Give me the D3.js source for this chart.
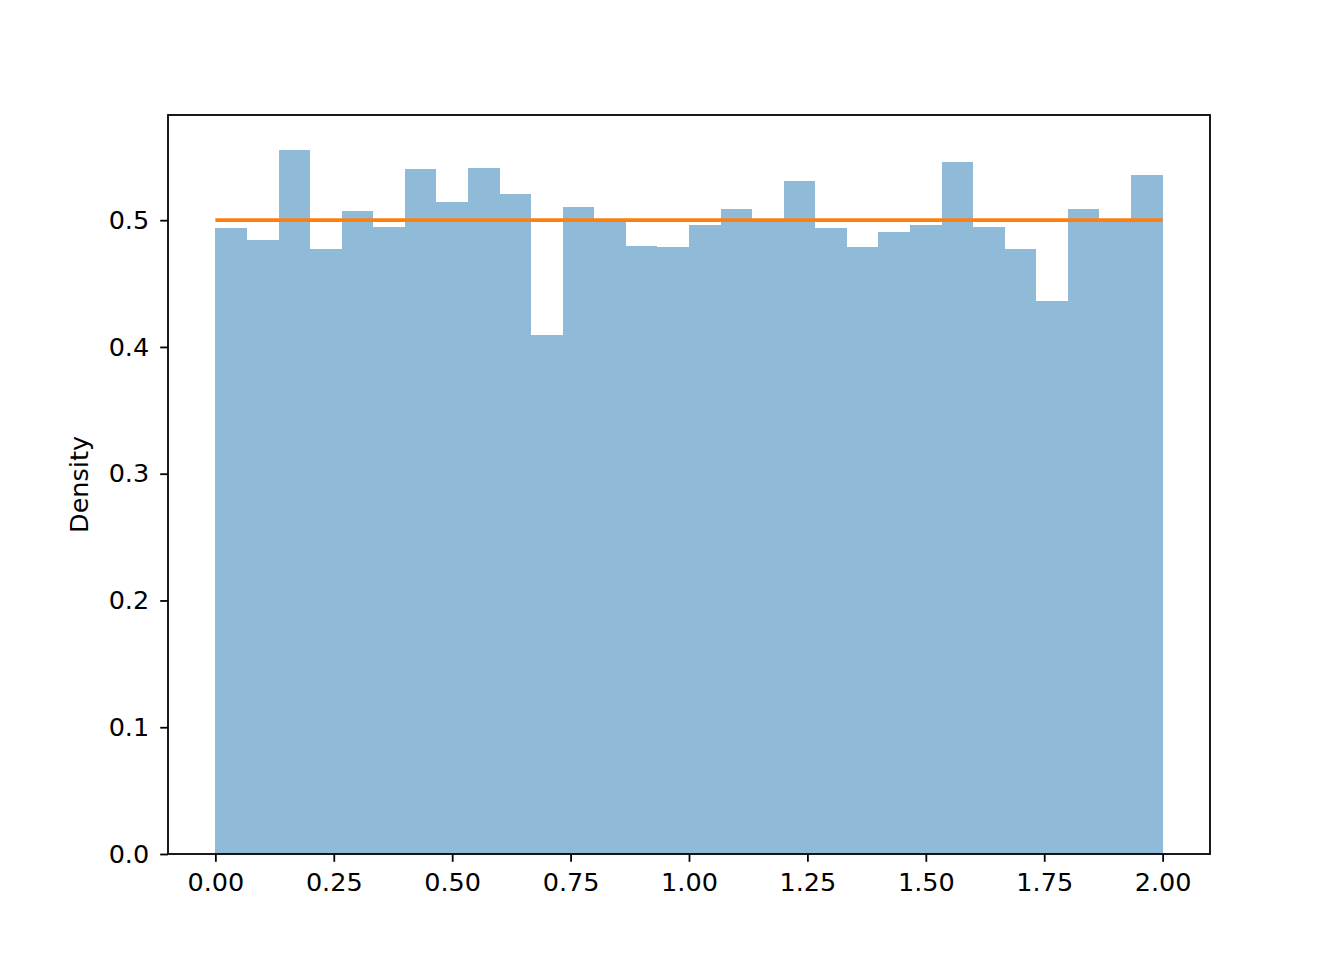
<!DOCTYPE html>
<html><head><meta charset="utf-8">
<script src="https://cdn.jsdelivr.net/npm/d3@7"></script>
<style>body{margin:0;background:#fff}svg{display:block}text{font-family:"DejaVu Sans",sans-serif}</style>
</head><body>
<script>
const binEdgesStart = 0, binEdgesEnd = 2, binCount = 30;
const densities = [0.4937,0.4842,0.5552,0.4771,0.5071,0.4945,0.5402,0.5142,0.5410,0.5205,
  0.4093,0.5103,0.5005,0.4795,0.4787,0.4961,0.5087,0.5002,0.5308,0.4937,
  0.4787,0.4905,0.4961,0.5457,0.4945,0.4771,0.4361,0.5087,0.5003,0.5355];
const pdfX = [0, 2];
const pdfY = [0.5, 0.5];
const xTicks = [0,0.25,0.5,0.75,1,1.25,1.5,1.75,2];
const yTicks = [0,0.1,0.2,0.3,0.4,0.5];

const W=1344,H=960, L=168,R=1210,T=115,B=854;
const svg=d3.select("body").append("svg").attr("width",W).attr("height",H);
const x=d3.scaleLinear().domain([-0.1,2.1]).range([L,R]);
const ymax=d3.max(densities)*1.05;
const y=d3.scaleLinear().domain([0,ymax]).range([B,T]);
const bw=(binEdgesEnd-binEdgesStart)/binCount;
const bins=densities.map((d,i)=>({x0:binEdgesStart+i*bw,x1:binEdgesStart+(i+1)*bw,v:d}));
svg.append("g").selectAll("rect").data(bins).join("rect")
  .attr("x",d=>x(d.x0)).attr("width",d=>x(d.x1)-x(d.x0))
  .attr("y",d=>y(d.v)).attr("height",d=>y(0)-y(d.v))
  .attr("fill","#1f77b4").attr("fill-opacity",0.5).attr("shape-rendering","crispEdges");
svg.append("path").datum(pdfX.map((v,i)=>[v,pdfY[i]]))
  .attr("d",d3.line().x(d=>x(d[0])).y(d=>y(d[1])))
  .attr("stroke","#ff7f0e").attr("stroke-width",3.8).attr("fill","none");
const fs=25.5;
const xa=svg.append("g").attr("transform",`translate(0,${B})`)
  .call(d3.axisBottom(x).tickValues(xTicks).tickFormat(d3.format(".2f")).tickSize(7.8).tickPadding(11));
const ya=svg.append("g").attr("transform",`translate(${L},0)`)
  .call(d3.axisLeft(y).tickValues(yTicks).tickFormat(d3.format(".1f")).tickSize(7.8).tickPadding(11));
[xa,ya].forEach(a=>{a.select(".domain").remove();a.selectAll("line").attr("stroke","#000").attr("stroke-width",1.8);
  a.selectAll("text").attr("font-size",fs).attr("fill","#000").attr("font-family","DejaVu Sans");});
svg.append("rect").attr("x",L).attr("y",T).attr("width",R-L).attr("height",B-T)
  .attr("fill","none").attr("stroke","#000").attr("stroke-width",1.8);
svg.append("text").attr("transform",`translate(88,${(T+B)/2}) rotate(-90)`)
  .attr("text-anchor","middle").attr("font-size",fs).text("Density");
</script>
</body></html>
